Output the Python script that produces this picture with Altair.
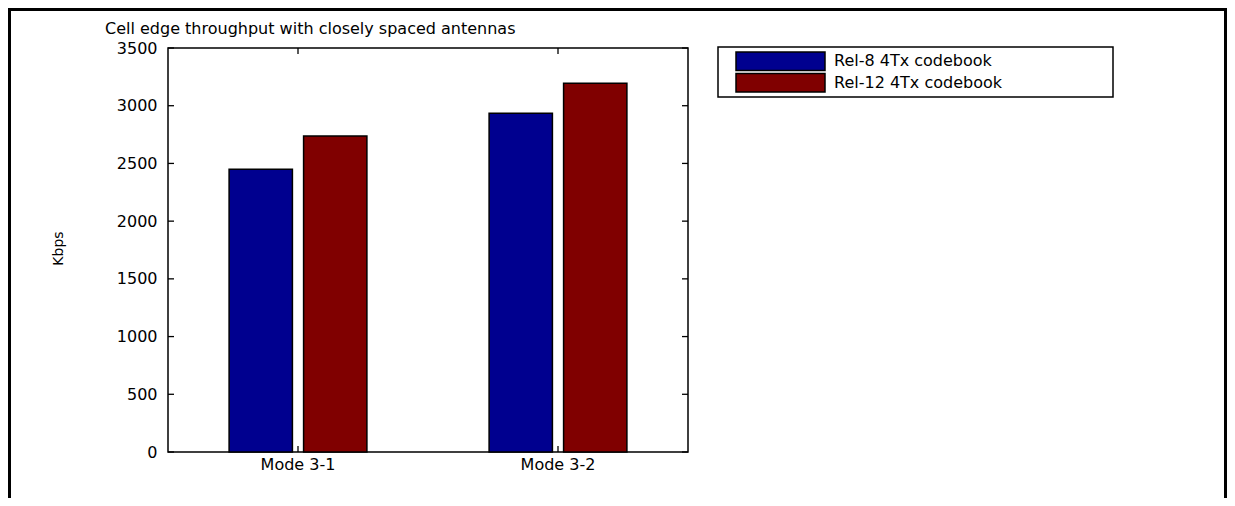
import altair as alt
import pandas as pd

categories = ["Mode 3-1", "Mode 3-2"]
series = ["Rel-8 4Tx codebook", "Rel-12 4Tx codebook"]
rel8_values = [2450, 2935]
rel12_values = [2738, 3195]
y_tick_values = [0, 500, 1000, 1500, 2000, 2500, 3000, 3500]
colors = ["#00008F", "#800000"]
title_text = "Cell edge throughput with closely spaced antennas"
y_title = "Kbps"

rows = []
for i, c in enumerate(categories):
    rows.append({"mode": c, "series": series[0], "value": rel8_values[i]})
    rows.append({"mode": c, "series": series[1], "value": rel12_values[i]})
df = pd.DataFrame(rows)

W, H = 520, 404
PAD_L, PAD_T = 160, 40
TOTAL_W, TOTAL_H = 1219, 490
FONT = "DejaVu Sans"
FS = 16

x_scale = alt.Scale(domain=categories, paddingInner=0.47, paddingOuter=0.235)
y_scale = alt.Scale(domain=[0, 3500], nice=False, zero=True)
color_scale = alt.Scale(domain=series, range=colors)

x_axis = alt.Axis(title=None, labelAngle=0, labelFont=FONT, labelFontSize=FS,
                  labelColor="black", labelPadding=4, ticks=False, tickSize=0,
                  domain=False, grid=False)
y_axis = alt.Axis(values=y_tick_values, format="d", title=y_title, labelFont=FONT,
                  labelFontSize=FS, labelColor="black", labelPadding=11,
                  ticks=False, tickSize=0, domain=False, grid=False,
                  titleFont=FONT, titleFontSize=14, titleFontWeight="normal",
                  titleColor="black", titleAngle=270, titleX=-110, titleY=200,
                  titleAlign="center", titleBaseline="middle")

X = alt.X("mode:N", scale=x_scale, sort=categories, axis=x_axis)
Y = alt.Y("value:Q", scale=y_scale, axis=y_axis)

bars = alt.Chart(df).mark_bar(stroke="black", strokeWidth=1.5).encode(
    x=X,
    xOffset=alt.XOffset("series:N", sort=series,
                        scale=alt.Scale(domain=series, paddingInner=0.15, paddingOuter=0)),
    y=Y,
    color=alt.Color("series:N", scale=color_scale, legend=None),
)

tick_df = pd.DataFrame({"value": y_tick_values})
left_ticks = alt.Chart(tick_df).mark_rule(color="black", strokeWidth=1.3).encode(
    y=Y, x=alt.value(0), x2=alt.value(6))
right_ticks = alt.Chart(tick_df).mark_rule(color="black", strokeWidth=1.3).encode(
    y=Y, x=alt.value(W - 6), x2=alt.value(W))

cat_df = pd.DataFrame({"mode": categories})
top_ticks = alt.Chart(cat_df).mark_rule(color="black", strokeWidth=1.3).encode(
    x=X, y=alt.value(0), y2=alt.value(6))
bottom_ticks = alt.Chart(cat_df).mark_rule(color="black", strokeWidth=1.3).encode(
    x=X, y=alt.value(H - 6), y2=alt.value(H))

one = pd.DataFrame({"a": [0]})

title_mark = alt.Chart(one).mark_text(align="left", baseline="alphabetic", font=FONT,
                                      fontSize=16, color="black").encode(
    x=alt.value(-63), y=alt.value(-14), text=alt.value(title_text))

# Legend (drawn manually)
legend_box = alt.Chart(one).mark_rect(fill="white", stroke="black", strokeWidth=1.5).encode(
    x=alt.value(550), x2=alt.value(945), y=alt.value(-1), y2=alt.value(49))
legend_layers = [legend_box]
for i, s in enumerate(series):
    y0 = 4 + i * 21.5
    legend_layers.append(
        alt.Chart(one).mark_rect(fill=colors[i], stroke="black", strokeWidth=1.5).encode(
            x=alt.value(568), x2=alt.value(657), y=alt.value(y0), y2=alt.value(y0 + 18.5)))
    legend_layers.append(
        alt.Chart(one).mark_text(align="left", baseline="middle", font=FONT, fontSize=FS,
                                 color="black").encode(
            x=alt.value(666), y=alt.value(y0 + 9), text=alt.value(s)))

frame = alt.Chart(one).mark_rect(fillOpacity=0, stroke="black", strokeWidth=3).encode(
    x=alt.value(-PAD_L + 1.5), x2=alt.value(TOTAL_W - PAD_L - 1.5),
    y=alt.value(-PAD_T + 1.5), y2=alt.value(TOTAL_H + 20))

chart = alt.layer(
    bars, left_ticks, right_ticks, top_ticks, bottom_ticks, title_mark, *legend_layers, frame
).properties(
    width=W, height=H,
    background="white",
    autosize=alt.AutoSizeParams(type="none"),
    padding={"left": PAD_L, "top": PAD_T, "right": TOTAL_W - PAD_L - W,
             "bottom": TOTAL_H - PAD_T - H},
).configure_view(
    stroke="black", strokeWidth=1.5
)

chart.save("out.html", embed_options={"renderer": "svg", "actions": False})
